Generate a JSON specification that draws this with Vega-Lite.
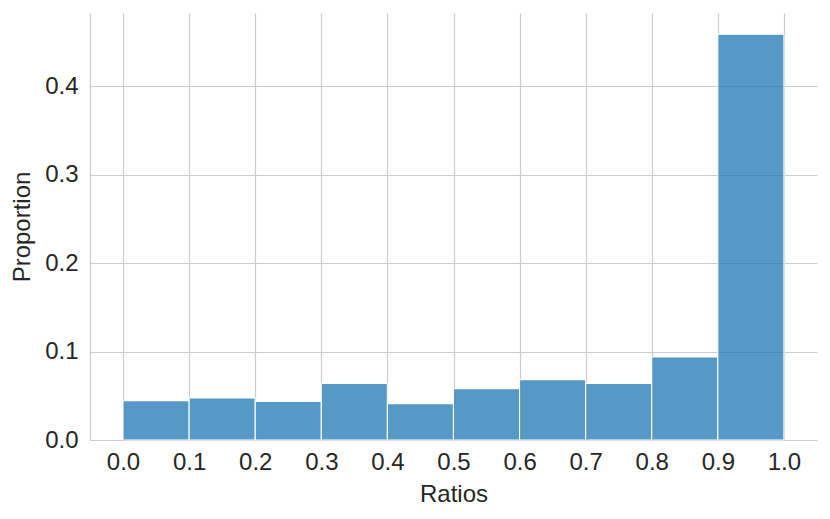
{
  "$schema": "https://vega.github.io/schema/vega-lite/v6.json",
  "width": 727,
  "height": 427,
  "autosize": {"type": "none"},
  "padding": {"left": 90, "top": 13, "right": 13, "bottom": 79},
  "background": "white",
  "config": {
    "view": {"stroke": null},
    "font": "Liberation Sans",
    "axis": {
      "labelFont": "Liberation Sans",
      "titleFont": "Liberation Sans",
      "labelFontSize": 24,
      "titleFontSize": 24,
      "titleFontWeight": "normal",
      "labelColor": "#262626",
      "titleColor": "#262626",
      "gridColor": "#cccccc",
      "gridWidth": 1.2,
      "domainColor": "#cccccc",
      "domainWidth": 1.2,
      "ticks": false
    }
  },
  "data": {
    "values": [
      {"bin_start": 0.0, "bin_end": 0.1, "proportion": 0.0445},
      {"bin_start": 0.1, "bin_end": 0.2, "proportion": 0.0476},
      {"bin_start": 0.2, "bin_end": 0.3, "proportion": 0.0437},
      {"bin_start": 0.3, "bin_end": 0.4, "proportion": 0.0641},
      {"bin_start": 0.4, "bin_end": 0.5, "proportion": 0.0411},
      {"bin_start": 0.5, "bin_end": 0.6, "proportion": 0.0581},
      {"bin_start": 0.6, "bin_end": 0.7, "proportion": 0.0683},
      {"bin_start": 0.7, "bin_end": 0.8, "proportion": 0.0641},
      {"bin_start": 0.8, "bin_end": 0.9, "proportion": 0.094},
      {"bin_start": 0.9, "bin_end": 1.0, "proportion": 0.459}
    ]
  },
  "mark": {"type": "bar", "color": "#1f77b4", "opacity": 0.75, "stroke": "white", "strokeWidth": 1.2, "strokeOpacity": 1},
  "encoding": {
    "x": {
      "field": "bin_start",
      "type": "quantitative",
      "scale": {"domain": [-0.05, 1.05], "nice": false, "zero": false},
      "axis": {
        "title": "Ratios",
        "values": [0, 0.1, 0.2, 0.3, 0.4, 0.5, 0.6, 0.7, 0.8, 0.9, 1.0],
        "format": ".1f",
        "labelPadding": 10,
        "titlePadding": 8
      }
    },
    "x2": {"field": "bin_end"},
    "y": {
      "field": "proportion",
      "type": "quantitative",
      "scale": {"domain": [0, 0.483], "nice": false},
      "axis": {
        "title": "Proportion",
        "values": [0, 0.1, 0.2, 0.3, 0.4],
        "format": ".1f",
        "labelPadding": 12,
        "titlePadding": 10
      }
    },
    "y2": {"datum": 0}
  }
}
